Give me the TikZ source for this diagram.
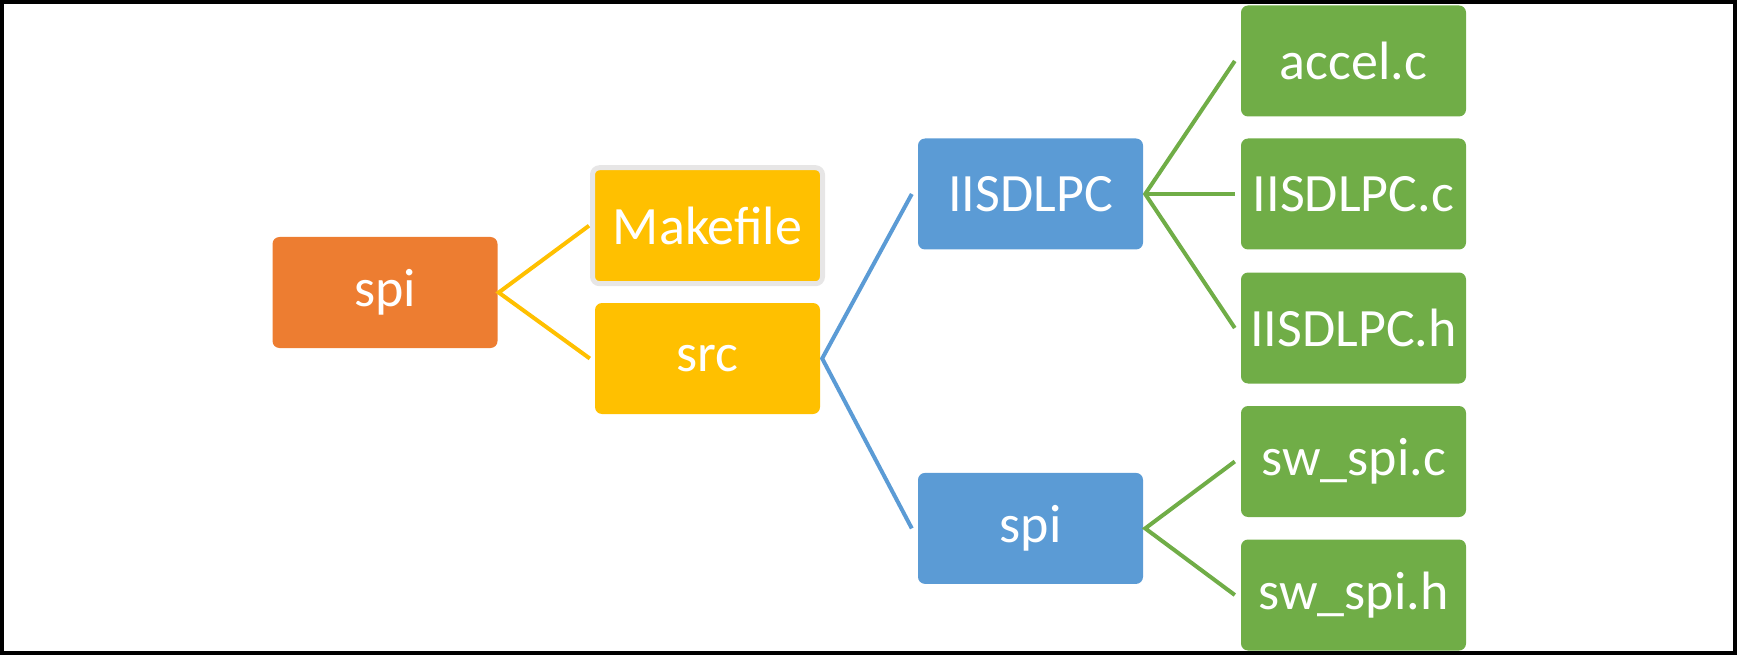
\documentclass[tikz,border=0pt]{standalone}
\usepackage{fontspec}
\setmainfont{Carlito}
\definecolor{cOrange}{HTML}{ED7D31}
\definecolor{cGold}{HTML}{FFC000}
\definecolor{cBlue}{HTML}{5B9BD5}
\definecolor{cGreen}{HTML}{70AD47}
\definecolor{cGray}{HTML}{E7E6E6}
\begin{document}
\begin{tikzpicture}[x=1pt,y=-1pt,
  box/.style={rectangle, rounded corners=7pt, minimum width=225pt, minimum height=111pt,
    inner sep=0pt, text=white, font=\fontsize{54}{60}\selectfont},
  lvlA/.style={box, fill=cOrange},
  lvlB/.style={box, fill=cGold},
  lvlC/.style={box, fill=cBlue},
  lvlD/.style={box, fill=cGreen},
  link/.style={line width=4pt}
]
\useasboundingbox (0,0) rectangle (1738,655);
\draw[line width=4pt] (2,2) rectangle (1735,653);

\node[lvlA] (root) at (385,292.5) {spi};
\node[lvlB, draw=cGray, line width=5pt, minimum width=230pt, minimum height=116pt] (make) at (707.5,225.7) {Makefile};
\node[lvlB] (src) at (707.5,358.5) {src};
\node[lvlC] (iis) at (1030.5,194) {IISDLPC};
\node[lvlC] (spib) at (1030.5,528.4) {spi};
\node[lvlD] (accel) at (1353.5,61) {accel.c};
\node[lvlD] (iisc) at (1353.5,194) {IISDLPC.c};
\node[lvlD] (iish) at (1353.5,328) {IISDLPC.h};
\node[lvlD] (swc) at (1353.5,461.5) {sw\_spi.c};
\node[lvlD] (swh) at (1353.5,595) {sw\_spi.h};

\draw[link, cGold] ([xshift=-1pt]make.west) -- ([xshift=1pt]root.east) -- ([xshift=-5pt]src.west);
\draw[link, cBlue] ([xshift=-6pt]iis.west) -- ([xshift=2pt]src.east) -- ([xshift=-6pt]spib.west);
\draw[link, cGreen] ([xshift=-6pt]accel.west) -- ([xshift=2pt]iis.east) -- ([xshift=-6pt]iish.west);
\draw[link, cGreen] ([xshift=2pt]iis.east) -- ([xshift=-6pt]iisc.west);
\draw[link, cGreen] ([xshift=-6pt]swc.west) -- ([xshift=2pt]spib.east) -- ([xshift=-6pt]swh.west);
\end{tikzpicture}
\end{document}
